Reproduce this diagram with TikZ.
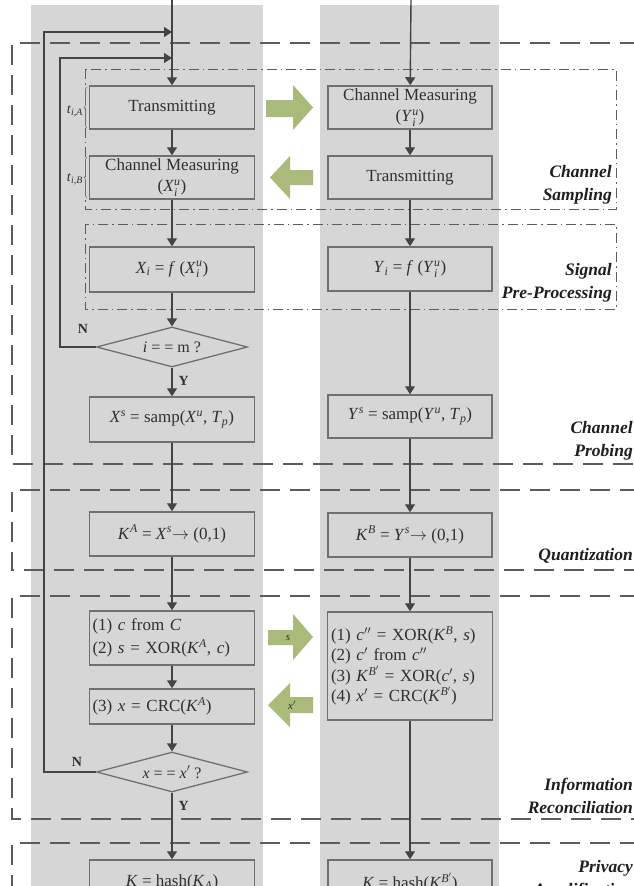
\documentclass[tikz,border=0pt]{standalone}
\usepackage{fontspec}
\usepackage{amsmath}
\setmainfont{Liberation Serif}
\usetikzlibrary{shapes.geometric,arrows.meta,decorations.pathreplacing}

\definecolor{colgray}{RGB}{214,214,214}
\definecolor{edgegray}{RGB}{112,112,112}
\definecolor{inkgray}{RGB}{48,48,48}
\definecolor{labelink}{RGB}{30,30,30}
\definecolor{linegray}{RGB}{68,68,68}
\definecolor{framegray}{RGB}{92,92,92}
\definecolor{arrowgreen}{RGB}{170,186,122}

\newcommand{\vi}[1]{\textit{#1}}

\tikzset{
  box/.style={draw=edgegray, line width=1.5pt, fill=colgray, minimum width=165pt,
    inner sep=2pt, text=inkgray, font=\fontsize{17}{21}\selectfont, align=center},
  listbox/.style={box, align=left, text width=159pt},
  decide/.style={diamond, draw=edgegray, line width=1.3pt, fill=colgray,
    minimum width=151pt, minimum height=40pt, aspect=3.8, inner sep=0pt,
    text=inkgray, font=\fontsize{16}{19}\selectfont},
  flow/.style={draw=linegray, line width=1.4pt, -{Triangle[length=8pt,width=10pt]}},
  stage/.style={draw=framegray, line width=2pt, dash pattern=on 20pt off 10pt},
  substage/.style={draw=framegray, line width=1pt, dash pattern=on 10pt off 4pt on 1.5pt off 4pt},
  stagelabel/.style={anchor=east, align=right, inner sep=1pt, text=labelink,
    font=\fontsize{17.5}{23}\selectfont\bfseries\itshape},
  branch/.style={text=inkgray, inner sep=0pt, font=\fontsize{14}{16}\selectfont\bfseries},
  tlabel/.style={anchor=east, inner sep=1pt, text=inkgray, font=\fontsize{14}{16}\selectfont},
  slotbrace/.style={draw=edgegray, line width=0.6pt, decorate, decoration={brace, amplitude=3pt}},
  sendarrow/.style={fill=arrowgreen},
  arrowtag/.style={text=inkgray, inner sep=0pt, font=\fontsize{11}{12}\selectfont\itshape}
}

\begin{document}
\begin{tikzpicture}[x=1pt, y=-1pt]
\useasboundingbox (0,0) rectangle (634,886);
\clip (0,0) rectangle (634,886);
\fill[white] (0,0) rectangle (634,886);

% the two party columns
\fill[colgray] (31,5) rectangle (263,900);
\fill[colgray] (320,5) rectangle (499,900);

% stage frames
\draw[stage] (640,43) -- (12,43) -- (12,464) -- (640,464);
\draw[stage] (640,490) -- (12,490) -- (12,570) -- (640,570);
\draw[stage] (640,596) -- (12,596) -- (12,819) -- (640,819);
\draw[stage] (640,843) -- (12,843) -- (12,900);
\draw[substage] (85,69) rectangle (616,209);
\draw[substage] (85,224) rectangle (616,309);

% stage labels
\node[stagelabel] (lbsamp) at (613,184.5) {Channel\\Sampling};
\node[stagelabel] (lbsig) at (613,283) {Signal\\Pre-Processing};
\node[stagelabel] (lbprob) at (634,440.5) {Channel\\Probing};
\node[stagelabel] (lbquant) at (634,556) {Quantization};
\node[stagelabel] (lbir) at (634,796) {Information\\Reconciliation};
\node[stagelabel] (lbpa) at (634,879.5) {Privacy\\Amplification};

% junction points on the left main line
\coordinate (topL) at (172,0);
\coordinate (topR) at (411,0);
\coordinate (j1) at (172,32);
\coordinate (j2) at (172,58);
\coordinate (lp1) at (60,58);
\coordinate (lp2) at (44,32);

% left party
\node[box, minimum height=43pt] (tx) at (172,107.5) {Transmitting};
\node[box, minimum height=43pt] (cmx) at (172,177.5) {Channel Measuring\\(\vi{X}$^{\vi{u}}_{\vi{i}}$)};
\node[box, minimum height=45pt] (fx) at (172,269.5) {\vi{X}$_{\vi{i}}$ = \vi{f} (\vi{X}$^{\vi{u}}_{\vi{i}}$)};
\node[decide] (d1) at (172,347) {\vi{i} = = m ?};
\node[box, minimum height=45pt] (sx) at (172,419.5) {\vi{X}$^{\vi{s}}$ = samp(\vi{X}$^{\vi{u}}$, \vi{T}$_{\vi{p}}$)};
\node[box, minimum height=44pt] (ka) at (172,534) {\vi{K}$^{\vi{A}}$ = \vi{X}$^{\vi{s}}$$\rightarrow$ (0,1)};
\node[listbox, minimum height=54pt, font=\fontsize{17}{23}\selectfont] (xor) at (172,638)
  {(1) \vi{c} from \vi{C}\\(2) \vi{s} = XOR(\vi{K}$^{\vi{A}}$, \vi{c})};
\node[listbox, minimum height=35pt] (crc) at (172,706.5) {(3) \vi{x} = CRC(\vi{K}$^{\vi{A}}$)};
\node[decide] (d2) at (172,772) {\vi{x} = = \vi{x}$'$ ?};
\node[box, minimum height=45pt] (hasha) at (172,882.5) {\vi{K} = hash(\vi{K}$_{\vi{A}}$)};

% right party
\node[box, minimum height=43pt, minimum width=164pt] (cmy) at (410,107.5) {Channel Measuring\\(\vi{Y}$^{\vi{u}}_{\vi{i}}$)};
\node[box, minimum height=43pt, minimum width=164pt] (try) at (410,177.5) {Transmitting};
\node[box, minimum height=44pt, minimum width=164pt] (fy) at (410,269) {\vi{Y}$_{\vi{i}}$ = \vi{f} (\vi{Y}$^{\vi{u}}_{\vi{i}}$)};
\node[box, minimum height=43pt, minimum width=164pt] (sy) at (410,416.5) {\vi{Y}$^{\vi{s}}$ = samp(\vi{Y}$^{\vi{u}}$, \vi{T}$_{\vi{p}}$)};
\node[box, minimum height=44pt, minimum width=164pt] (kb) at (410,535) {\vi{K}$^{\vi{B}}$ = \vi{Y}$^{\vi{s}}$$\rightarrow$ (0,1)};
\node[listbox, minimum height=108pt, text width=158pt, font=\fontsize{17}{20.5}\selectfont] (rec) at (410,666)
  {(1) \vi{c}$''$ = XOR(\vi{K}$^{\vi{B}}$, \vi{s})\\(2) \vi{c}$'$ from \vi{c}$''$\\(3) \vi{K}$^{\vi{B}'}$ = XOR(\vi{c}$'$, \vi{s})\\(4) \vi{x}$'$ = CRC(\vi{K}$^{\vi{B}'}$)};
\node[box, minimum height=45pt, minimum width=164pt] (hashb) at (410,882.5) {\vi{K} = hash(\vi{K}$^{\vi{B}'}$)};

% slot markers
\node[tlabel] (ta) at (84,111) {\vi{t}$_{\vi{i,A}}$};
\node[tlabel] (tb) at (84,179) {\vi{t}$_{\vi{i,B}}$};
\draw[slotbrace] (87,128) -- (87,87);
\draw[slotbrace] (87,198) -- (87,157);

% left flow
\draw[flow] (topL) -- (tx);
\draw[flow] (tx) -- (cmx);
\draw[flow] (cmx) -- (fx);
\draw[flow] (fx) -- (d1);
\draw[flow] (d1) -- (sx) node[branch, pos=0.45, right=6pt] (y1) {Y};
\draw[flow] (sx) -- (ka);
\draw[flow] (ka) -- (xor);
\draw[flow] (xor) -- (crc);
\draw[flow] (crc) -- (d2);
\draw[flow] (d2) -- (hasha) node[branch, pos=0.2, right=6pt] (y2) {Y};
\draw[flow] (d1.west) -| (lp1) -- (j2);
\draw[flow] (d2.west) -| (lp2) -- (j1);
\node[branch] (n1) at (83,329) {N};
\node[branch] (n2) at (77,762) {N};

% right flow
\draw[flow] (topR) -- (cmy);
\draw[flow] (cmy) -- (try);
\draw[flow] (try) -- (fy);
\draw[flow] (fy) -- (sy);
\draw[flow] (sy) -- (kb);
\draw[flow] (kb) -- (rec);
\draw[flow] (rec) -- (hashb);

% exchanges between the parties
\fill[sendarrow] (266,100) -- (293,100) -- (293,85) -- (313,107.5) -- (293,130) -- (293,117) -- (266,117) -- cycle;
\fill[sendarrow] (313,170) -- (290,170) -- (290,156) -- (270,177.5) -- (290,199) -- (290,185) -- (313,185) -- cycle;
\fill[sendarrow] (268,630) -- (293,630) -- (293,614) -- (313,637) -- (293,660) -- (293,645) -- (268,645) -- cycle;
\fill[sendarrow] (313,697) -- (290,697) -- (290,683) -- (268,705) -- (290,727) -- (290,713) -- (313,713) -- cycle;
\node[arrowtag] (tags) at (288,638) {s};
\node[arrowtag] (tagx) at (292,705) {x$'$};
\end{tikzpicture}
\end{document}
